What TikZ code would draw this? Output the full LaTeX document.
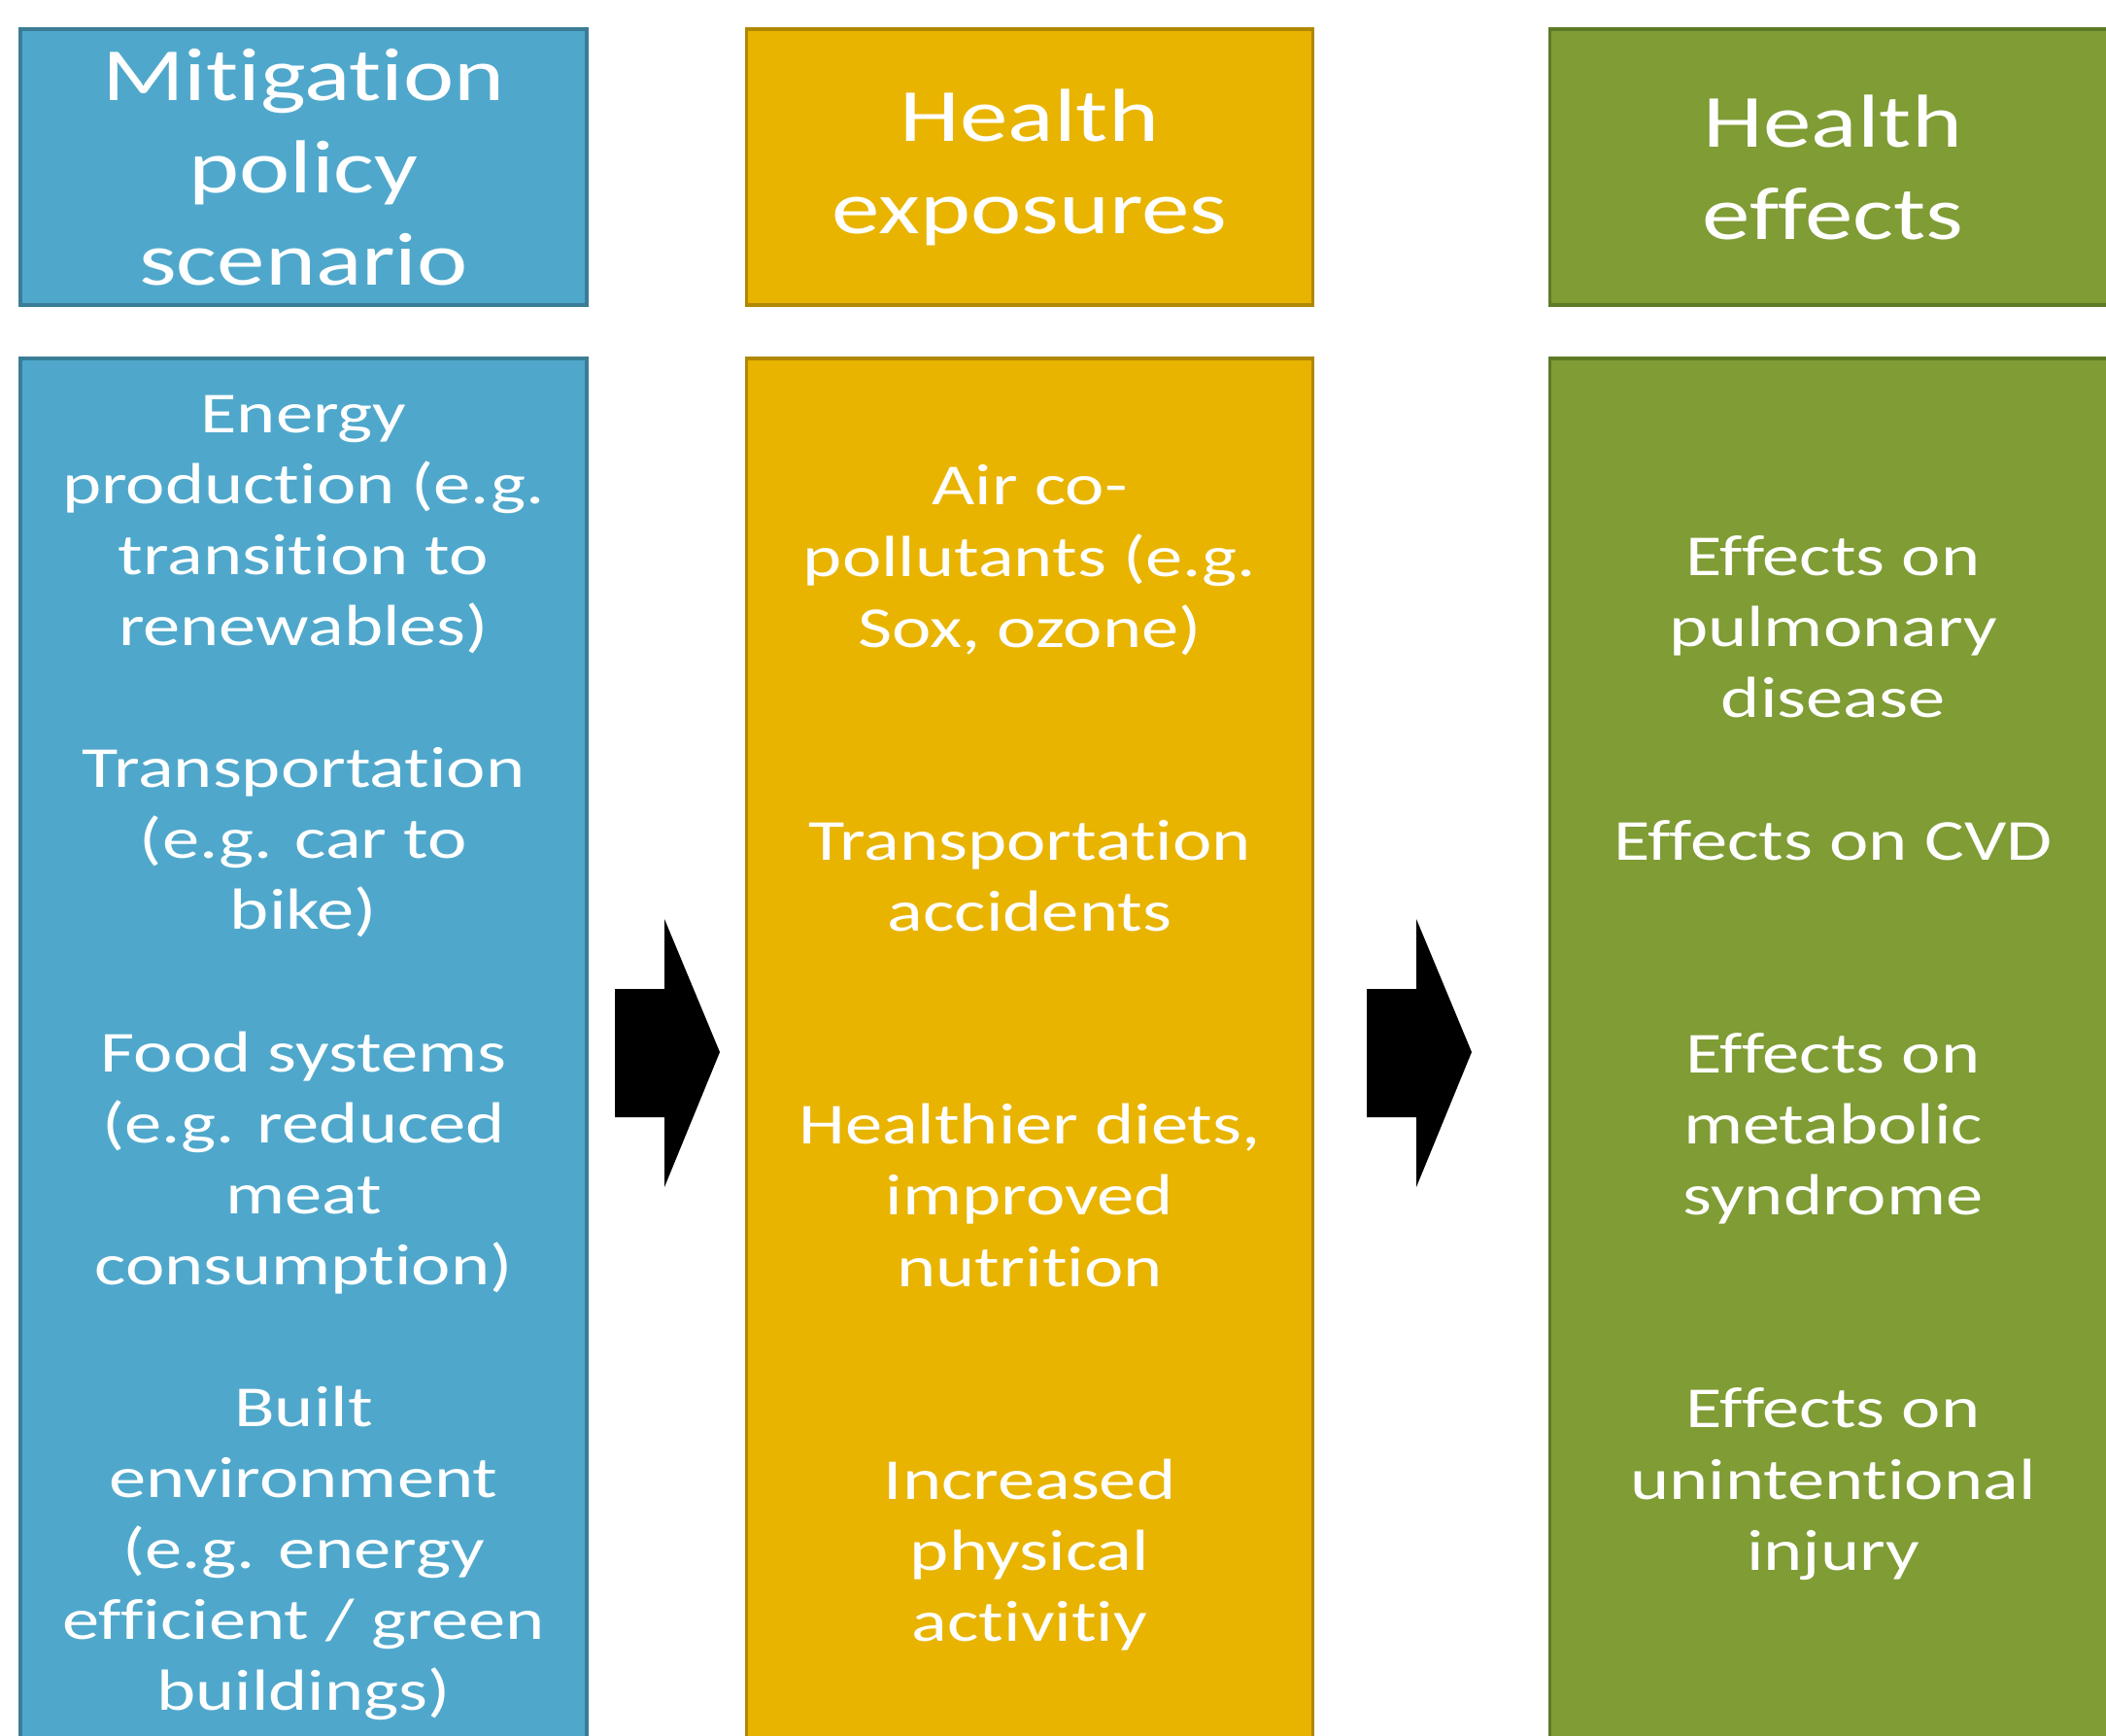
\documentclass[tikz,border=0pt]{standalone}
\usepackage{fontspec}
\setmainfont{Carlito}[FakeStretch=1.28, Ligatures=NoCommon]
\usepackage{tikz}
\definecolor{mitblue}{HTML}{4FA8CB}
\definecolor{mitblueline}{HTML}{3B7C96}
\definecolor{expgold}{HTML}{E8B400}
\definecolor{expgoldline}{HTML}{B08800}
\definecolor{effgreen}{HTML}{7F9C35}
\definecolor{effgreenline}{HTML}{5E7A26}

\tikzset{
  colbox/.style={rectangle, line width=1.1pt, inner sep=0pt, align=center,
    text=white, minimum width=5.83cm},
  headbox/.style={colbox, minimum height=2.84cm, font=\fontsize{22}{27}\selectfont},
  bodybox/.style={colbox, minimum height=14.32cm, font=\fontsize{17}{20.8}\selectfont}
}

\begin{document}
\begin{tikzpicture}

% Frame
\useasboundingbox (0,0) rectangle (21.68,-17.87);
\clip (0,0) rectangle (21.68,-17.87);

% Column centres
\def\xmit{3.125}
\def\xexp{10.60}
\def\xeff{18.87}

% Headers
\node[headbox, fill=mitblue, draw=mitblueline] (mithead) at (\xmit,-1.72)
  {Mitigation\\policy\\scenario};
\node[headbox, fill=expgold, draw=expgoldline] (exphead) at (\xexp,-1.72)
  {Health\\exposures};
\node[headbox, fill=effgreen, draw=effgreenline] (effhead) at (\xeff,-1.72)
  {Health\\effects};

% Column bodies
\node[bodybox, fill=mitblue, draw=mitblueline] (mitbody) at (\xmit,-10.85) {};
\node[bodybox, fill=expgold, draw=expgoldline] (expbody) at (\xexp,-10.85) {};
\node[bodybox, fill=effgreen, draw=effgreenline] (effbody) at (\xeff,-10.85) {};

% Column texts
\node[bodybox, minimum height=0pt] (mittext) at ([yshift=-0.04cm]mitbody.center)
  {Energy\\production (e.g.\\transition to\\renewables)\\~\\
   Transportation\\(e.g. car to\\bike)\\~\\
   Food systems\\(e.g. reduced\\meat\\consumption)\\~\\
   Built\\environment\\(e.g. energy\\efficient / green\\buildings)};
\node[bodybox, minimum height=0pt] (exptext) at ([yshift=-0.04cm]expbody.center)
  {Air co-\\pollutants (e.g.\\Sox, ozone)\\~\\~\\
   Transportation\\accidents\\~\\~\\
   Healthier diets,\\improved\\nutrition\\~\\~\\
   Increased\\physical\\activitiy};
\node[bodybox, minimum height=0pt] (efftext) at ([yshift=-0.04cm]effbody.center)
  {Effects on\\pulmonary\\disease\\~\\
   Effects on CVD\\~\\~\\
   Effects on\\metabolic\\syndrome\\~\\~\\
   Effects on\\unintentional\\injury};

% Block arrows between the columns
\foreach \ax in {6.33,14.07}
  \fill[black] (\ax,-10.18) -- ++(0.51,0) -- ++(0,0.72) -- ++(0.57,-1.37)
    -- ++(-0.57,-1.39) -- ++(0,0.72) -- ++(-0.51,0) -- cycle;

\end{tikzpicture}
\end{document}
